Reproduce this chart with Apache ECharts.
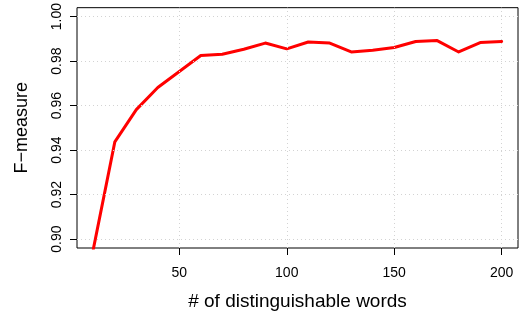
<!DOCTYPE html>
<html>
<head>
<meta charset="utf-8">
<script src="https://cdn.jsdelivr.net/npm/echarts@6/dist/echarts.min.js"></script>
<style>
	html, body { margin: 0; padding: 0; background: #fff; }
	#chart { width: 521px; height: 316px; }
</style>
</head>
<body>
<div id="chart"></div>
<script>
	// 数据
	var words = [10, 20, 30, 40, 50, 60, 70, 80, 90, 100, 110, 120, 130, 140, 150, 160, 170, 180, 190, 200];
	var fMeasure = [0.8955, 0.9437, 0.9582, 0.9681, 0.9753, 0.9825, 0.9831, 0.9853, 0.9881, 0.9855,
		0.9886, 0.9881, 0.9841, 0.9849, 0.9861, 0.9888, 0.9892, 0.9841, 0.9883, 0.9888];
	var xTicks = [50, 100, 150, 200];
	var yTicks = [0.90, 0.92, 0.94, 0.96, 0.98, 1.00];

	var font = "Liberation Sans";

	var chart = echarts.init(document.getElementById("chart"));

	// 网格线 (R grid() 风格)
	var gridLines = [];
	xTicks.forEach(function(v) { gridLines.push({ xAxis: v }); });
	yTicks.forEach(function(v) { gridLines.push({ yAxis: v }); });

	var option = {
		animation: false,
		grid: {
			left: 77,
			top: 7,
			right: 3,
			bottom: 67,
			show: true,
			borderColor: "#000",
			borderWidth: 1,
			backgroundColor: "transparent"
		},
		xAxis: {
			type: "value",
			min: 2.4,
			max: 207.6,
			name: "# of distinguishable words",
			nameLocation: "middle",
			nameGap: 44,
			nameTextStyle: { fontFamily: font, fontSize: 19, color: "#000" },
			axisLine: { show: false },
			axisTick: {
				show: true, length: 7, inside: false,
				customValues: xTicks,
				lineStyle: { color: "#000", width: 1 }
			},
			axisLabel: {
				customValues: xTicks,
				margin: 18,
				fontFamily: font, fontSize: 14, color: "#000"
			},
			splitLine: { show: false }
		},
		yAxis: {
			type: "value",
			min: 0.896,
			max: 1.004,
			name: "F\u2212measure",
			nameLocation: "middle",
			nameRotate: 90,
			nameGap: 46,
			nameTextStyle: { fontFamily: font, fontSize: 18, color: "#000" },
			axisLine: { show: false },
			axisTick: {
				show: true, length: 7, inside: false,
				customValues: yTicks,
				lineStyle: { color: "#000", width: 1 }
			},
			axisLabel: {
				customValues: yTicks,
				rotate: 90,
				margin: 13,
				fontFamily: font, fontSize: 14, color: "#000",
				formatter: function(v) { return v.toFixed(2); }
			},
			splitLine: { show: false }
		},
		series: [{
			type: "line",
			data: words.map(function(w, i) { return [w, fMeasure[i]]; }),
			showSymbol: false,
			symbol: "none",
			clip: true,
			lineStyle: { color: "#ff0000", width: 3, cap: "round", join: "round" },
			markLine: {
				silent: true,
				symbol: "none",
				label: { show: false },
				lineStyle: { color: "#d3d3d3", type: [1, 3], width: 1 },
				data: gridLines
			},
			z: 3
		}]
	};

	chart.setOption(option);
</script>
</body>
</html>
